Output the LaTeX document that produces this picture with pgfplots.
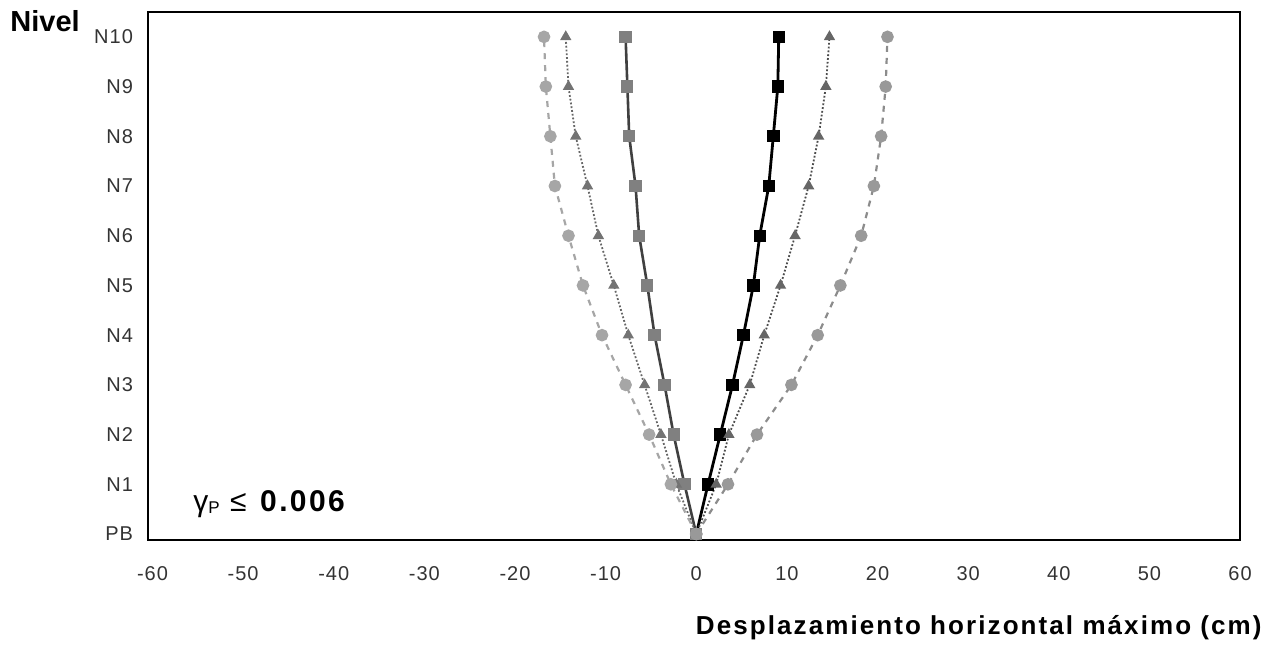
\documentclass[border=0pt]{standalone}
\usepackage{pgfplots}
\pgfplotsset{compat=1.18}
\usepackage{fontspec}
\setmainfont{Liberation Sans}
\begin{document}
\begin{tikzpicture}
\path[use as bounding box] (-74pt,-53pt) rectangle (562.5pt,270pt);
\begin{axis}[
  scale only axis,
  width=546pt, height=264pt,
  xmin=-60.5, xmax=60, ymin=-0.12, ymax=10.5,
  xtick={-60,-50,...,60},
  ytick={0,1,...,10},
  yticklabels={PB,N1,N2,N3,N4,N5,N6,N7,N8,N9,N10},
  major tick length=0pt,
  axis line style={line width=1.2pt},
  /pgf/number format/assume math mode=true,
  tick label style={font=\fontsize{10}{12}\selectfont\addfontfeatures{LetterSpace=5}, text=black!80},
  xticklabel style={yshift=-9.5pt},
  yticklabel style={xshift=-4pt},
  clip=false,
]
% black solid squares (right)
\addplot[black, line width=1.4pt, mark=square*, mark size=2.4pt, mark options={solid, fill=black}]
  coordinates {(0,0) (1.3,1) (2.65,2) (4.0,3) (5.2,4) (6.3,5) (7.0,6) (8.0,7) (8.5,8) (9.0,9) (9.1,10)};
% dark solid, gray squares (left)
\addplot[black!75, line width=1.3pt, mark=square*, mark size=2.4pt, mark options={solid, draw=black!50, fill=black!50}]
  coordinates {(0,0) (-1.3,1) (-2.5,2) (-3.5,3) (-4.6,4) (-5.4,5) (-6.3,6) (-6.7,7) (-7.4,8) (-7.6,9) (-7.8,10)};
% dotted triangles (left)
\addplot[black!60, line width=0.9pt, densely dotted, mark=triangle*, mark size=2.4pt, mark options={solid, draw=black!55, fill=black!55}]
  coordinates {(0,0) (-2.2,1) (-3.9,2) (-5.7,3) (-7.5,4) (-9.1,5) (-10.8,6) (-12.0,7) (-13.3,8) (-14.1,9) (-14.4,10)};
% dotted triangles (right)
\addplot[black!70, line width=0.9pt, densely dotted, mark=triangle*, mark size=2.4pt, mark options={solid, draw=black!60, fill=black!60}]
  coordinates {(0,0) (2.2,1) (3.6,2) (5.9,3) (7.5,4) (9.3,5) (10.9,6) (12.4,7) (13.5,8) (14.3,9) (14.7,10)};
% dashed light gray circles (left)
\addplot[black!35, line width=1.1pt, dashed, mark=*, mark size=2.6pt, mark options={solid, draw=black!35, fill=black!35}]
  coordinates {(0,0) (-2.8,1) (-5.2,2) (-7.8,3) (-10.4,4) (-12.5,5) (-14.1,6) (-15.6,7) (-16.1,8) (-16.6,9) (-16.8,10)};
% dashed gray circles (right)
\addplot[black!45, line width=1.1pt, dashed, mark=*, mark size=2.6pt, mark options={solid, draw=black!40, fill=black!40}]
  coordinates {(0,0) (3.5,1) (6.7,2) (10.5,3) (13.4,4) (15.9,5) (18.2,6) (19.6,7) (20.4,8) (20.9,9) (21.1,10)};
\end{axis}
\node[anchor=base west, font=\fontsize{14.5}{16}\selectfont\bfseries, inner sep=0pt] at (-69pt,254pt) {Nivel};
\node[anchor=base west, inner sep=0pt, font=\fontsize{15}{17}\selectfont] at (22.5pt,14pt) {γ\raisebox{-0.1ex}{\fontsize{8.5}{9}\selectfont P}\hspace{0.35em}≤\hspace{0.45em}{\bfseries\addfontfeatures{LetterSpace=8}0.006}};
\node[anchor=base east, inner sep=0pt, font=\fontsize{13}{15}\selectfont\bfseries\addfontfeatures{LetterSpace=8}] at (557pt,-47.5pt) {Desplazamiento horizontal máximo (cm)};
\end{tikzpicture}
\end{document}
